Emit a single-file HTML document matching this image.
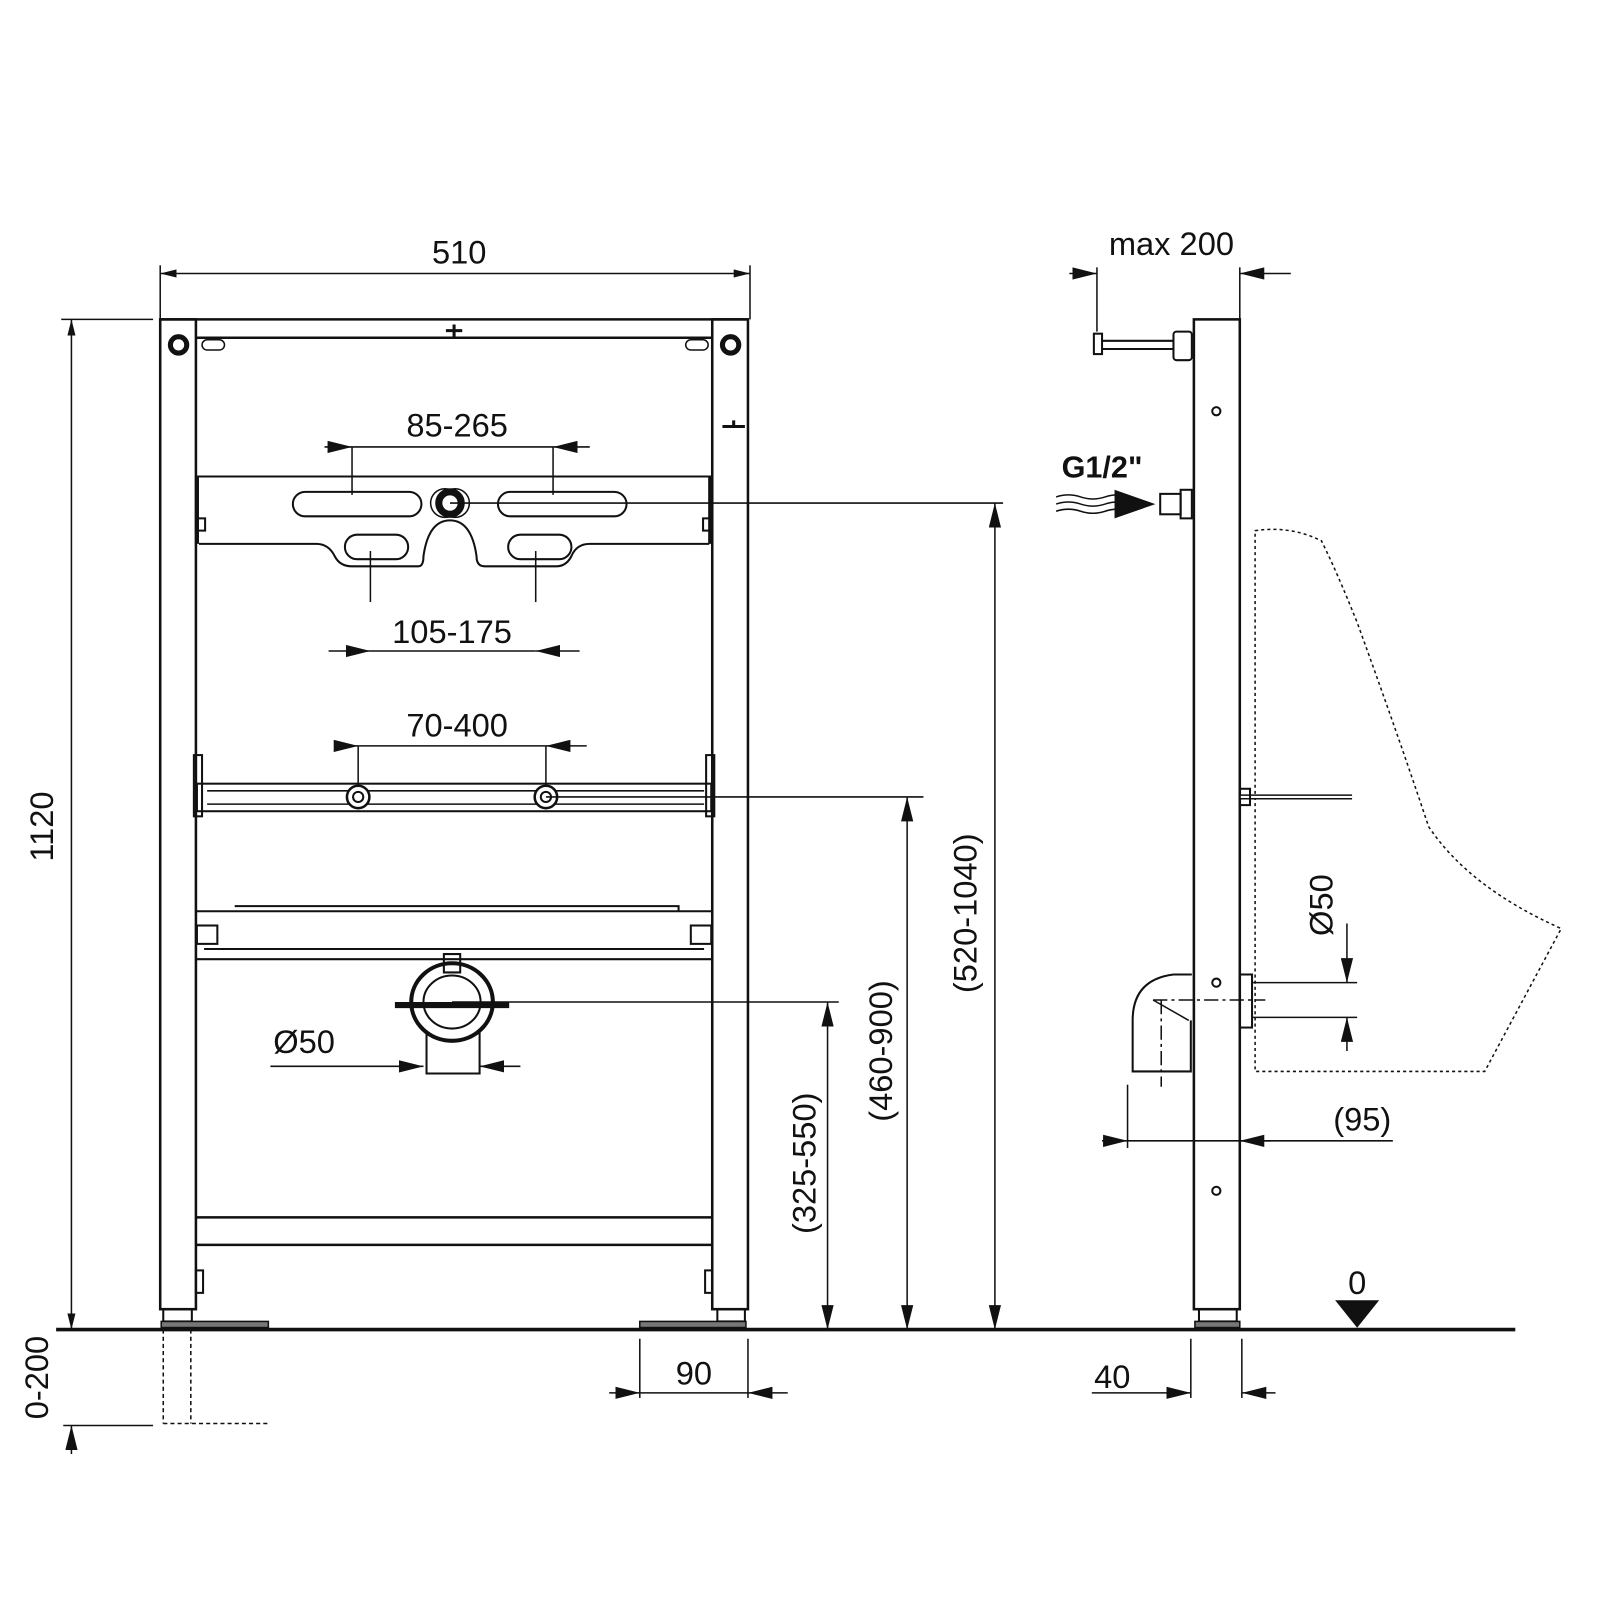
<!DOCTYPE html>
<html><head><meta charset="utf-8"><style>
html,body{margin:0;padding:0;background:#fff}
svg{display:block}
text{font-family:"Liberation Sans",sans-serif;fill:#111}
</style></head><body>
<svg width="1600" height="1600" viewBox="0 0 1568 1568" xmlns="http://www.w3.org/2000/svg">
<defs>
<marker id="a" viewBox="0 0 10 10" refX="10" refY="5" markerWidth="24" markerHeight="12" markerUnits="userSpaceOnUse" preserveAspectRatio="none" orient="auto-start-reverse"><path d="M0,0L10,5L0,10z" fill="#111"/></marker>
<marker id="b" viewBox="0 0 10 10" refX="10" refY="5" markerWidth="16" markerHeight="8" markerUnits="userSpaceOnUse" preserveAspectRatio="none" orient="auto-start-reverse"><path d="M0,0L10,5L0,10z" fill="#111"/></marker>
</defs>
<g stroke="#111" fill="none" stroke-width="1.5">
<line x1="55" y1="1303" x2="1485" y2="1303" stroke-width="3.5"/>
<rect x="157" y="313" width="35" height="970" stroke-width="2.5"/>
<rect x="160" y="1283" width="28" height="12" stroke-width="2"/>
<rect x="158" y="1295" width="105" height="6" fill="#777" stroke-width="1.5"/>
<rect x="698" y="313" width="35" height="970" stroke-width="2.5"/>
<rect x="703" y="1283" width="27" height="12" stroke-width="2"/>
<rect x="627" y="1295" width="104" height="6" fill="#777" stroke-width="1.5"/>
<line x1="157" y1="313" x2="733" y2="313" stroke-width="2.5"/>
<line x1="192" y1="331" x2="698" y2="331" stroke-width="2.5"/>
<circle cx="175" cy="338" r="8" stroke-width="5"/><circle cx="716" cy="338" r="8" stroke-width="5"/>
<rect x="198" y="333" width="22" height="10" rx="5"/><rect x="672" y="333" width="22" height="10" rx="5"/>
<path d="M437 324h16M445 318v12" stroke-width="3"/>
<path d="M708 418h22M719 412v6" stroke-width="3"/>
<line x1="192" y1="467" x2="698" y2="467" stroke-width="2"/>
<path d="M195 533H310Q322 533 328 545Q333 555 345 555H410Q415 555 415 545Q420 510 441 510Q462 510 467 545Q467 555 475 555H545Q555 555 560 545Q565 533 578 533H695" stroke-width="2"/>
<line x1="193" y1="467" x2="193" y2="533" stroke-width="4"/><line x1="696" y1="467" x2="696" y2="533" stroke-width="4"/>
<rect x="287" y="482" width="126" height="24" rx="12" stroke-width="2"/>
<rect x="488" y="482" width="126" height="24" rx="12" stroke-width="2"/>
<rect x="338" y="524" width="62" height="24" rx="12" stroke-width="2"/>
<rect x="498" y="524" width="62" height="24" rx="12" stroke-width="2"/>
<circle cx="441" cy="493" r="11" stroke-width="7"/><circle cx="436" cy="493" r="14" stroke-width="1.5"/><circle cx="446" cy="493" r="14" stroke-width="1.5"/>
<rect x="193" y="508" width="8" height="12" stroke-width="2"/><rect x="689" y="508" width="8" height="12" stroke-width="2"/>
<line x1="345" y1="438" x2="542" y2="438"/>
<line x1="318" y1="438" x2="345" y2="438" marker-end="url(#a)"/>
<line x1="578" y1="438" x2="542" y2="438" marker-end="url(#a)"/>
<line x1="345" y1="438" x2="345" y2="485"/><line x1="542" y1="438" x2="542" y2="485"/>
<line x1="363" y1="540" x2="363" y2="590"/><line x1="525" y1="540" x2="525" y2="590"/>
<line x1="363" y1="638" x2="525" y2="638"/>
<line x1="322" y1="638" x2="363" y2="638" marker-end="url(#a)"/>
<line x1="568" y1="638" x2="525" y2="638" marker-end="url(#a)"/>
<line x1="441" y1="493" x2="983" y2="493"/>
<line x1="975" y1="493" x2="975" y2="1303" marker-start="url(#a)" marker-end="url(#a)"/>
<rect x="193" y="768" width="504" height="27" stroke-width="2"/>
<line x1="203" y1="775" x2="690" y2="775"/><line x1="203" y1="788" x2="690" y2="788"/>
<rect x="190" y="740" width="8" height="60" stroke-width="2"/><rect x="692" y="740" width="8" height="60" stroke-width="2"/>
<circle cx="351" cy="781" r="11" fill="#fff" stroke-width="2.5"/><circle cx="351" cy="781" r="5" stroke-width="2"/>
<circle cx="535" cy="781" r="11" fill="#fff" stroke-width="2.5"/><circle cx="535" cy="781" r="5" stroke-width="2"/>
<line x1="328" y1="731" x2="351" y2="731" marker-end="url(#a)"/>
<line x1="575" y1="731" x2="535" y2="731" marker-end="url(#a)"/>
<line x1="351" y1="731" x2="535" y2="731"/>
<line x1="351" y1="731" x2="351" y2="770"/><line x1="535" y1="731" x2="535" y2="770"/>
<line x1="535" y1="781" x2="905" y2="781"/>
<line x1="889" y1="781" x2="889" y2="1303" marker-start="url(#a)" marker-end="url(#a)"/>
<path d="M193 893H697M230 888H665V893M193 940H697M200 930H690" stroke-width="2"/>
<rect x="193" y="907" width="20" height="18" stroke-width="2"/><rect x="677" y="907" width="20" height="18" stroke-width="2"/>
<ellipse cx="443" cy="982" rx="40" ry="38" stroke-width="4"/><ellipse cx="443" cy="982" rx="28" ry="26" stroke-width="2"/>
<path d="M387 985h112" stroke-width="6"/>
<path d="M435 935h16v18h-16z" stroke-width="2"/>
<path d="M418 1010V1052H470V1010" stroke-width="2"/>
<line x1="443" y1="982" x2="822" y2="982"/>
<line x1="811" y1="982" x2="811" y2="1303" marker-start="url(#a)" marker-end="url(#a)"/>
<line x1="265" y1="1045" x2="415" y2="1045" marker-end="url(#a)"/>
<line x1="510" y1="1045" x2="470" y2="1045" marker-end="url(#a)"/>
<line x1="192" y1="1193" x2="698" y2="1193" stroke-width="2.5"/>
<line x1="192" y1="1220" x2="698" y2="1220" stroke-width="2.5"/>
<rect x="192" y="1245" width="7" height="22" stroke-width="2"/><rect x="691" y="1245" width="7" height="22" stroke-width="2"/>
<line x1="157" y1="260" x2="157" y2="313"/><line x1="735" y1="260" x2="735" y2="313"/>
<line x1="157" y1="268" x2="735" y2="268" marker-start="url(#b)" marker-end="url(#b)"/>
<line x1="60" y1="313" x2="150" y2="313"/>
<line x1="70" y1="313" x2="70" y2="1303" marker-start="url(#b)" marker-end="url(#b)"/>
<line x1="62" y1="1397" x2="150" y2="1397"/>
<line x1="70" y1="1425" x2="70" y2="1397" marker-end="url(#a)"/>
<path d="M160 1303V1395M187 1303V1395M160 1395H262" stroke-dasharray="4 3"/>
<line x1="627" y1="1312" x2="627" y2="1370"/><line x1="733" y1="1312" x2="733" y2="1370"/>
<line x1="597" y1="1365" x2="627" y2="1365" marker-end="url(#a)"/>
<line x1="772" y1="1365" x2="733" y2="1365" marker-end="url(#a)"/>
<line x1="627" y1="1365" x2="733" y2="1365"/>
<rect x="1170" y="313" width="45" height="970" stroke-width="2.5"/>
<rect x="1175" y="1283" width="37" height="12" stroke-width="2"/>
<rect x="1171" y="1295" width="44" height="6" fill="#777"/>
<circle cx="1192" cy="403" r="4" stroke-width="2"/><circle cx="1192" cy="963" r="4" stroke-width="2"/><circle cx="1192" cy="1167" r="4" stroke-width="2"/>
<line x1="1075" y1="262" x2="1075" y2="325"/><line x1="1215" y1="262" x2="1215" y2="313"/>
<line x1="1048" y1="268" x2="1075" y2="268" marker-end="url(#a)"/>
<line x1="1265" y1="268" x2="1215" y2="268" marker-end="url(#a)"/>
<rect x="1072" y="327" width="8" height="20" stroke-width="2"/>
<path d="M1080 334H1150M1080 342H1150" stroke-width="2"/>
<rect x="1150" y="325" width="18" height="28" rx="3" stroke-width="2"/>
<path d="M1035 487q12 -4 24 0t24 0t24 0M1035 494q12 -4 24 0t24 0t24 0M1035 501q12 -4 24 0t24 0t24 0" stroke-width="1.5"/>
<path d="M1093 481L1130 494L1093 507z" fill="#111"/>
<rect x="1137" y="484" width="20" height="20" stroke-width="2"/><rect x="1157" y="480" width="11" height="28" stroke-width="2"/>
<path d="M1230 520Q1265 515 1295 530Q1310 560 1330 610Q1370 720 1400 810Q1440 870 1530 910L1455 1050H1230Z" stroke-dasharray="3 3" stroke-width="1.5"/>
<line x1="1215" y1="781" x2="1325" y2="781" stroke-width="5"/><line x1="1215" y1="781" x2="1325" y2="781" stroke="#fff" stroke-width="2"/>
<rect x="1215" y="773" width="10" height="16" stroke-width="2"/>
<rect x="1215" y="955" width="12" height="52" stroke-width="2"/>
<line x1="1228" y1="963" x2="1330" y2="963"/><line x1="1228" y1="997" x2="1330" y2="997"/>
<line x1="1320" y1="905" x2="1320" y2="963" marker-end="url(#a)"/>
<line x1="1320" y1="1030" x2="1320" y2="997" marker-end="url(#a)"/>
<path d="M1168 955H1150Q1110 960 1110 1000V1050H1167V1000" stroke-width="2"/>
<path d="M1130 980L1165 1000" stroke-width="1.5"/>
<line x1="1138" y1="980" x2="1138" y2="1065" stroke-dasharray="14 4 3 4"/>
<line x1="1130" y1="980" x2="1240" y2="980" stroke-dasharray="14 4 3 4"/>
<line x1="1105" y1="1063" x2="1105" y2="1125"/>
<line x1="1080" y1="1118" x2="1105" y2="1118" marker-end="url(#a)"/>
<line x1="1105" y1="1118" x2="1365" y2="1118"/>
<line x1="1245" y1="1118" x2="1215" y2="1118" marker-end="url(#a)"/>
<path d="M1310 1275H1350L1330 1300Z" fill="#111"/>
<line x1="1167" y1="1312" x2="1167" y2="1370"/><line x1="1217" y1="1312" x2="1217" y2="1370"/>
<line x1="1070" y1="1365" x2="1167" y2="1365" marker-end="url(#a)"/>
<line x1="1250" y1="1365" x2="1217" y2="1365" marker-end="url(#a)"/>
</g>
<g font-size="32" text-anchor="middle">
<text x="450" y="258">510</text>
<text x="448" y="428">85-265</text>
<text x="443" y="630">105-175</text>
<text x="448" y="722">70-400</text>
<text x="298" y="1032">Ø50</text>
<text x="680" y="1357">90</text>
<text x="1148" y="250">max 200</text>
<text x="1080" y="468" font-weight="bold" font-size="30">G1/2"</text>
<text x="1335" y="1108">(95)</text>
<text x="1330" y="1268">0</text>
<text x="1090" y="1360">40</text>
<text transform="translate(52 810) rotate(-90)">1120</text>
<text transform="translate(47 1350) rotate(-90)">0-200</text>
<text transform="translate(957 895) rotate(-90)">(520-1040)</text>
<text transform="translate(874 1030) rotate(-90)">(460-900)</text>
<text transform="translate(799 1140) rotate(-90)">(325-550)</text>
<text transform="translate(1306 887) rotate(-90)">Ø50</text>
</g>
</svg>
</body></html>
